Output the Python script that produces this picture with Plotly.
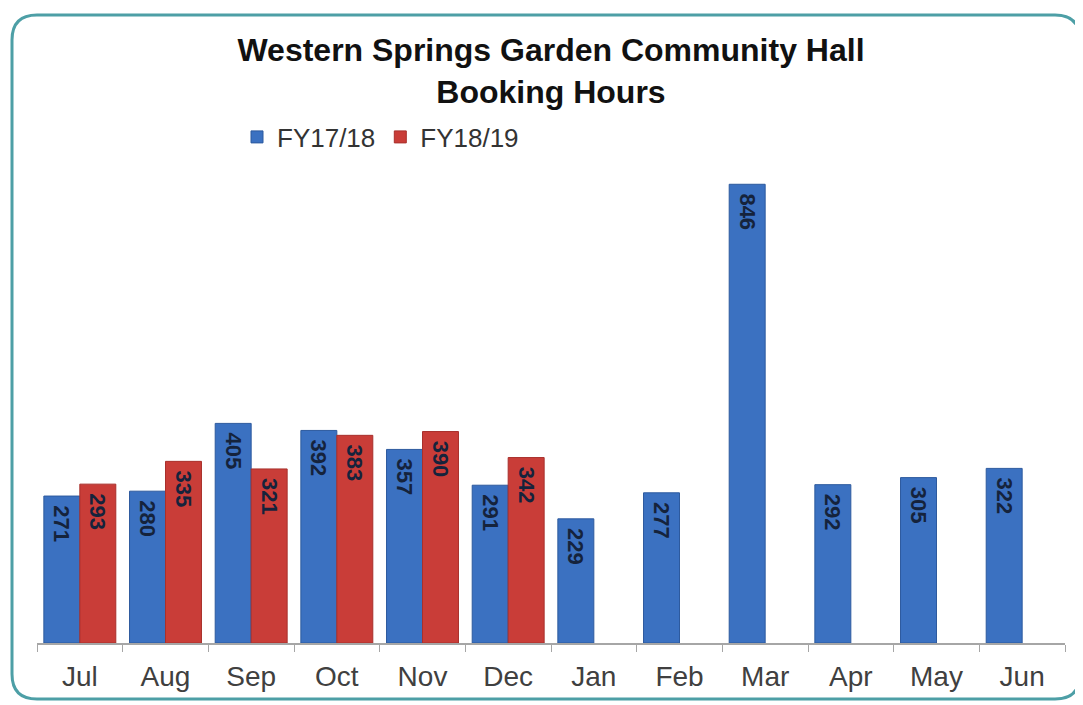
import plotly.graph_objects as go

months = ["Jul", "Aug", "Sep", "Oct", "Nov", "Dec", "Jan", "Feb", "Mar", "Apr", "May", "Jun"]
fy1718 = [271, 280, 405, 392, 357, 291, 229, 277, 846, 292, 305, 322]
fy1819 = [293, 335, 321, 383, 390, 342, None, None, None, None, None, None]

OFF = 8  # page body margin
W, H = 1083 - OFF, 705 - OFF
# plot area in page pixels: x 37..1065, y 155..643
L, R = 37 - OFF, 1083 - 1065
T, B = 155 - OFF, 705 - 643
pw, ph = W - L - R, H - T - B

def px(x):  # page px -> paper
    return (x - OFF - L) / pw

def py(y):
    return (H - B - (y - OFF)) / ph

fig = go.Figure()
lab_font = dict(family="Liberation Sans, Arial, sans-serif", size=22, color="#15233c",
                weight="bold")
fig.add_trace(go.Bar(
    x=months, y=fy1718, name="FY17/18",
    marker=dict(color="#3b71c1", line=dict(color="#2d5a9e", width=1)),
    texttemplate="\u00a0%{y}", textposition="inside", insidetextanchor="end",
    textangle=90, textfont=lab_font, constraintext="none",
))
fig.add_trace(go.Bar(
    x=months, y=fy1819, name="FY18/19",
    marker=dict(color="#c93d38", line=dict(color="#a8302c", width=1)),
    texttemplate="\u00a0%{y}", textposition="inside",
    insidetextanchor="end", textangle=90, textfont=lab_font, constraintext="none",
))

# rounded border
x0, x1 = px(12), px(1080)
y0, y1 = py(699), py(15)
rx, ry = 25 / pw, 25 / ph
path = (f"M {x0+rx},{y1} L {x1-rx},{y1} Q {x1},{y1} {x1},{y1-ry} "
        f"L {x1},{y0+ry} Q {x1},{y0} {x1-rx},{y0} L {x0+rx},{y0} "
        f"Q {x0},{y0} {x0},{y0+ry} L {x0},{y1-ry} Q {x0},{y1} {x0+rx},{y1} Z")
fig.add_shape(type="path", path=path, xref="paper", yref="paper",
              line=dict(color="#4d9fa6", width=3), layer="below")

fig.update_layout(
    width=W, height=H,
    margin=dict(l=L, r=R, t=T, b=B),
    paper_bgcolor="white", plot_bgcolor="white",
    barmode="group", bargap=0.16, bargroupgap=0,
    font=dict(family="Liberation Sans, Arial, sans-serif", color="#404040"),
    title=dict(text="<b>Western Springs Garden Community Hall<br>Booking Hours</b>",
               x=0.5, xref="paper", xanchor="center", y=1 - (61 - OFF) / H, yanchor="middle",
               font=dict(size=32, color="#111111")),
    legend=dict(orientation="h", x=px(237), xanchor="left", y=py(137), yanchor="middle",
                font=dict(size=26, color="#333333"), itemwidth=30, traceorder="normal",
                bgcolor="rgba(0,0,0,0)"),
    xaxis=dict(showline=True, linecolor="#a6a6a6", linewidth=1.5, ticks="outside",
               tickson="boundaries", ticklen=7, tickcolor="#a6a6a6",
               ticklabelstandoff=8,
               tickfont=dict(size=28, color="#404040"), showgrid=False),
    yaxis=dict(range=[0, 900], visible=False, showgrid=False),
)

fig.write_html("out.html")
